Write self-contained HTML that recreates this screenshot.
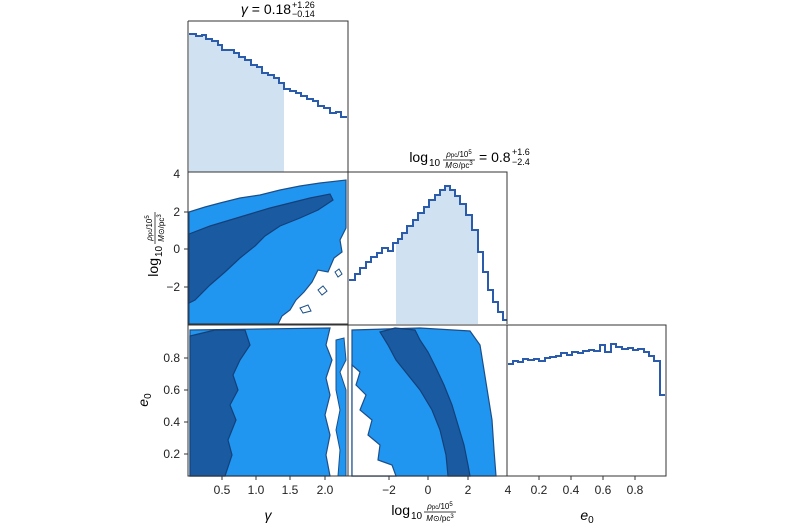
<!DOCTYPE html>
<html><head><meta charset="utf-8"><style>
html,body{margin:0;padding:0;background:#fff}
svg{display:block;font-family:"Liberation Sans",sans-serif}
</style></head><body>
<svg width="800" height="530" viewBox="0 0 800 530" xmlns="http://www.w3.org/2000/svg">
<defs>
<clipPath id="c1"><rect x="189" y="0" width="95" height="172"/></clipPath>
<clipPath id="c2"><rect x="396" y="0" width="82" height="324"/></clipPath>
</defs>
<!-- Top hist gamma -->
<path clip-path="url(#c1)" d="M189,172 V34 H196 V36 H202 V35 H206 V39 H212 V41 H218 V45 H222 V50 H228 V50 H234 V53 H239 V57 H245 V60 H251 V65 H257 V67 H262 V73 H268 V75 H274 V78 H279 V83 H284 V89 H290 V172 Z" fill="#d0e1f2"/>
<path d="M189,34 H196 V36 H202 V35 H206 V39 H212 V41 H218 V45 H222 V50 H228 V50 H234 V53 H239 V57 H245 V60 H251 V65 H257 V67 H262 V73 H268 V75 H274 V78 H279 V83 H284 V89 H290 V91 H296 V93 H301 V96 H307 V99 H313 V101 H318 V106 H324 V108 H330 V113 H336 V112 H341 V117 H347" fill="none" stroke="#2a5cab" stroke-width="2"/>
<path d="M188,21 H348 V172" fill="none" stroke="#333" stroke-width="1"/>
<path d="M188,21 V172" stroke="#333"/>
<text x="266" y="14" font-size="14" text-anchor="middle"><tspan font-style="italic">γ</tspan> = 0.18</text>
<text x="292" y="8" font-size="9">+1.26</text>
<text x="292" y="17" font-size="9">−0.14</text>

<!-- middle-left contour -->
<path d="M189,212 L205,207 L220,203 L240,198 L260,195 L280,190 L300,186 L320,183 L346,180 L346,228 L340,240 L342,252 L334,258 L328,272 L318,270 L312,282 L304,292 L296,300 L290,310 L282,316 L278,324 L189,324 Z" fill="#2196f0" stroke="#1b4f8a" stroke-width="1.2"/>
<path d="M189,234 L210,226 L230,220 L250,214 L270,208 L290,203 L310,198 L330,194 L333,200 L318,210 L300,218 L280,226 L265,236 L255,246 L240,258 L225,272 L210,285 L195,300 L189,303 Z" fill="#1a5aa0" stroke="#14407a" stroke-width="1.2"/>
<path d="M318,290 l5,-4 l4,5 l-5,4 Z M335,272 l4,-3 l3,5 l-4,3 Z M300,308 l8,-3 l3,6 l-8,2 Z" fill="#fff" stroke="#1b4f8a"/>
<path d="M188,172 H348 V324 H188 Z" fill="none" stroke="#333"/>

<!-- middle hist log rho -->
<path clip-path="url(#c2)" d="M349,324 V280 H355 V274 H360 V268 H366 V262 H371 V257 H377 V253 H382 V248 H388 V251 H393 V243 H398 V239 H402 V233 H407 V226 H413 V220 H418 V213 H424 V207 H429 V200 H435 V195 H440 V190 H445 V186 H450 V190 H455 V196 H460 V204 H466 V215 H472 V230 H478 V252 H483 V324 Z" fill="#d0e1f2"/>
<path d="M349,280 H355 V274 H360 V268 H366 V262 H371 V257 H377 V253 H382 V248 H388 V251 H393 V243 H398 V239 H402 V233 H407 V226 H413 V220 H418 V213 H424 V207 H429 V200 H435 V195 H440 V190 H445 V186 H450 V190 H455 V196 H460 V204 H466 V215 H472 V230 H478 V252 H483 V272 H488 V290 H493 V302 H498 V312 H503 V320 H507" fill="none" stroke="#2a5cab" stroke-width="2"/>
<path d="M348,172 H507 V324" fill="none" stroke="#333"/>
<text x="428" y="162" font-size="14" text-anchor="end">log</text>
<text x="429" y="166" font-size="10">10</text>
<text x="459" y="157" font-size="8" text-anchor="middle" font-style="italic">ρ<tspan font-style="normal" font-size="6">pc</tspan><tspan font-style="normal">/10</tspan><tspan font-size="6" dy="-3" font-style="normal">5</tspan></text>
<line x1="443" y1="160" x2="475" y2="160" stroke="#000" stroke-width="0.7"/>
<text x="459" y="168" font-size="8" text-anchor="middle"><tspan font-style="italic">M</tspan>⊙/pc<tspan font-size="6" dy="-3">3</tspan></text>
<text x="479" y="162" font-size="14">= 0.8</text>
<text x="512" y="155" font-size="9">+1.6</text>
<text x="512" y="165" font-size="9">−2.4</text>

<!-- bottom-left contour -->
<path d="M190,330 L330,328 L326,345 L332,360 L326,378 L330,395 L325,415 L330,435 L326,455 L330,476 L190,476 Z" fill="#2196f0" stroke="#1b4f8a" stroke-width="1.2"/>
<path d="M336,340 L344,338 L346,360 L340,372 L346,390 L346,476 L338,476 L340,450 L336,430 L340,410 L336,390 Z" fill="#2196f0" stroke="#1b4f8a" stroke-width="1"/>
<path d="M190,336 L215,330 L245,330 L250,345 L240,360 L233,375 L238,390 L230,405 L236,420 L228,440 L232,455 L225,476 L190,476 Z" fill="#1a5aa0" stroke="#14407a" stroke-width="1.2"/>
<path d="M188,325 H348 V476 H188 Z" fill="none" stroke="#333"/>

<!-- bottom-middle contour -->
<path d="M352,330 L420,328 L470,331 L480,345 L484,370 L488,395 L492,420 L494,450 L496,476 L352,476 Z" fill="#2196f0" stroke="#1b4f8a" stroke-width="1.2"/>
<path d="M352,365 L360,372 L356,385 L366,395 L360,410 L372,420 L368,435 L380,445 L378,460 L392,465 L396,476 L352,476 Z" fill="#fff" stroke="#1b4f8a" stroke-width="1.2"/>
<path d="M380,332 L395,328 L415,330 L420,340 L428,352 L436,368 L444,385 L452,405 L458,425 L464,445 L468,465 L470,476 L448,476 L446,455 L440,430 L432,410 L420,390 L408,375 L396,360 L388,345 Z" fill="#1a5aa0" stroke="#14407a" stroke-width="1.2"/>
<path d="M348,325 H507 V476 H348 Z" fill="none" stroke="#333"/>

<!-- bottom-right hist e0 -->
<path d="M508,364 H513 V361 H518 V362 H523 V359 H528 V360 H534 V359 H539 V361 H545 V358 H550 V357 H556 V356 H561 V353 H567 V355 H572 V352 H578 V353 H583 V351 H589 V350 H594 V351 H600 V345 H605 V352 H611 V344 H616 V347 H622 V349 H628 V348 H633 V350 H638 V349 H644 V352 H649 V356 H654 V361 H660 V395 H665" fill="none" stroke="#2a5cab" stroke-width="2"/>
<path d="M507,325 H666 V476 H507 Z" fill="none" stroke="#333"/>

<!-- ticks -->
<g stroke="#333">
<line x1="222" y1="476" x2="222" y2="480"/><line x1="256" y1="476" x2="256" y2="480"/><line x1="290" y1="476" x2="290" y2="480"/><line x1="325" y1="476" x2="325" y2="480"/>
<line x1="389" y1="476" x2="389" y2="480"/><line x1="428" y1="476" x2="428" y2="480"/><line x1="468" y1="476" x2="468" y2="480"/>
<line x1="539" y1="476" x2="539" y2="480"/><line x1="571" y1="476" x2="571" y2="480"/><line x1="603" y1="476" x2="603" y2="480"/><line x1="635" y1="476" x2="635" y2="480"/>
<line x1="184" y1="212" x2="188" y2="212"/><line x1="184" y1="249" x2="188" y2="249"/><line x1="184" y1="287" x2="188" y2="287"/>
<line x1="184" y1="358" x2="188" y2="358"/><line x1="184" y1="390" x2="188" y2="390"/><line x1="184" y1="422" x2="188" y2="422"/><line x1="184" y1="454" x2="188" y2="454"/>
</g>
<g font-size="12" fill="#222" text-anchor="middle">
<text x="222" y="494">0.5</text><text x="256" y="494">1.0</text><text x="290" y="494">1.5</text><text x="325" y="494">2.0</text>
<text x="389" y="494">−2</text><text x="428" y="494">0</text><text x="468" y="494">2</text><text x="508" y="494">4</text>
<text x="539" y="494">0.2</text><text x="571" y="494">0.4</text><text x="603" y="494">0.6</text><text x="635" y="494">0.8</text>
</g>
<g font-size="12" fill="#222" text-anchor="end">
<text x="180" y="178">4</text><text x="180" y="216">2</text><text x="180" y="253">0</text><text x="180" y="291">−2</text>
<text x="180" y="362">0.8</text><text x="180" y="394">0.6</text><text x="180" y="426">0.4</text><text x="180" y="458">0.2</text>
</g>
<text x="268" y="520" font-size="14" font-style="italic" text-anchor="middle">γ</text>
<text x="587" y="520" font-size="14" text-anchor="middle"><tspan font-style="italic">e</tspan><tspan font-size="10" dy="3">0</tspan></text>
<text x="148" y="400" font-size="14" text-anchor="middle" transform="rotate(-90 148 400)"><tspan font-style="italic">e</tspan><tspan font-size="10" dy="3">0</tspan></text>
<text x="410" y="515" font-size="14" text-anchor="end">log</text>
<text x="411" y="519" font-size="10">10</text>
<text x="440" y="509" font-size="8" text-anchor="middle" font-style="italic">ρ<tspan font-style="normal" font-size="6">pc</tspan><tspan font-style="normal">/10</tspan><tspan font-size="6" dy="-3" font-style="normal">5</tspan></text>
<line x1="424" y1="512" x2="456" y2="512" stroke="#000" stroke-width="0.7"/>
<text x="440" y="521" font-size="8" text-anchor="middle"><tspan font-style="italic">M</tspan>⊙/pc<tspan font-size="6" dy="-3">3</tspan></text>
<g transform="rotate(-90 150 248)">
<text x="140" y="256" font-size="14" text-anchor="end">log</text>
<text x="141" y="260" font-size="10">10</text>
<text x="170" y="250" font-size="8" text-anchor="middle" font-style="italic">ρ<tspan font-style="normal" font-size="6">pc</tspan><tspan font-style="normal">/10</tspan><tspan font-size="6" dy="-3" font-style="normal">5</tspan></text>
<line x1="154" y1="253" x2="186" y2="253" stroke="#000" stroke-width="0.7"/>
<text x="170" y="262" font-size="8" text-anchor="middle"><tspan font-style="italic">M</tspan>⊙/pc<tspan font-size="6" dy="-3">3</tspan></text>
</g>
</svg>
</body></html>
